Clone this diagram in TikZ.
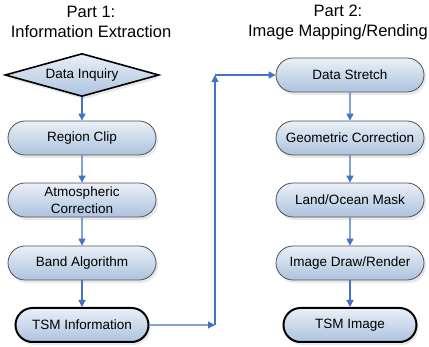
\documentclass[tikz,border=0pt]{standalone}
\usepackage{fontspec}
\setmainfont{Liberation Sans}
\usepackage{tikz}
\usetikzlibrary{positioning,arrows.meta,shapes.misc,shapes.geometric,shadows}
\definecolor{boxtop}{RGB}{234,240,247}
\definecolor{boxbot}{RGB}{172,194,222}
\definecolor{boxline}{RGB}{80,80,80}
\definecolor{flowblue}{RGB}{68,114,196}

\tikzset{
  stepbox/.style={rounded rectangle, draw=boxline, line width=0.8pt,
    top color=boxtop, bottom color=boxbot, minimum width=148pt,
    minimum height=34pt, inner sep=0pt, align=center,
    font=\fontsize{13.5}{16.5}\selectfont,
    drop shadow={opacity=0.18, shadow xshift=2pt, shadow yshift=-3pt}},
  endbox/.style={stepbox, draw=black, line width=2pt, minimum width=133pt},
  querybox/.style={diamond, draw=black, line width=1.6pt, aspect=3.6,
    top color=boxtop, bottom color=boxbot, minimum width=154pt,
    minimum height=43pt, inner sep=0pt, font=\fontsize{13.5}{16.5}\selectfont,
    drop shadow={opacity=0.18, shadow xshift=2pt, shadow yshift=-3pt}},
  headline/.style={align=center, font=\fontsize{16.5}{20}\selectfont},
  flow/.style={draw=flowblue, line width=1.2pt,
    -{Triangle[length=7pt,width=7pt]}}
}

\begin{document}
\begin{tikzpicture}[x=1pt,y=-1pt]
  \useasboundingbox (0,0) rectangle (429,347);
  % headings
  \node[headline] (head1) at (91,22) {Part 1:\\Information Extraction};
  \node[headline] (head2) at (338,22) {Part 2:\\Image Mapping/Rending};
  % part 1
  \node[querybox] (inquiry) at (82,75) {Data Inquiry};
  \node[stepbox] (clip) at (82,138) {Region Clip};
  \node[stepbox] (atmos) at (82,200) {Atmospheric\\Correction};
  \node[stepbox] (band) at (82,263) {Band Algorithm};
  \node[endbox] (tsminfo) at (82,325) {TSM Information};
  % part 2
  \node[stepbox] (stretch) at (350,75) {Data Stretch};
  \node[stepbox] (geocorr) at (350,138) {Geometric Correction};
  \node[stepbox] (mask) at (350,200) {Land/Ocean Mask};
  \node[stepbox] (render) at (350,263) {Image Draw/Render};
  \node[endbox] (tsmimg) at (350,325) {TSM Image};
  % corners of the link
  \coordinate (lowturn) at (215,325);
  \coordinate (highturn) at (215,75);
  % arrows
  \draw[flow] (inquiry) -- (clip);
  \draw[flow] (clip) -- (atmos);
  \draw[flow] (atmos) -- (band);
  \draw[flow] (band) -- (tsminfo);
  \draw[flow] (tsminfo) -- (lowturn);
  \draw[flow] (lowturn) -- (highturn);
  \draw[flow] (highturn) -- (stretch);
  \draw[flow] (stretch) -- (geocorr);
  \draw[flow] (geocorr) -- (mask);
  \draw[flow] (mask) -- (render);
  \draw[flow] (render) -- (tsmimg);
\end{tikzpicture}
\end{document}
